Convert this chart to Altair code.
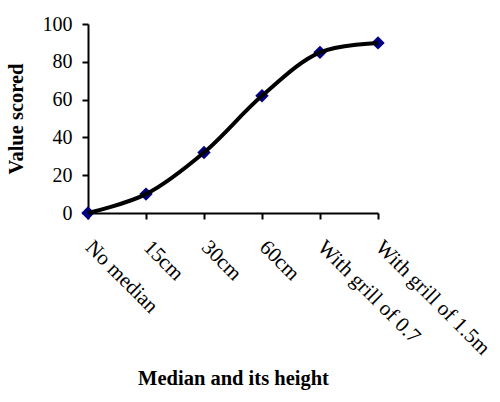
import altair as alt
import pandas as pd

categories = ["No median", "15cm", "30cm", "60cm", "With grill of 0.7", "With grill of 1.5m"]
values = [0, 10, 32, 62, 85, 90]
y_ticks = [0, 20, 40, 60, 80, 100]

df = pd.DataFrame({"cat": categories, "val": values, "order": list(range(len(categories)))})

FONT = "Liberation Serif"

x = alt.X("cat:N", sort=categories,
          scale=alt.Scale(type="point", padding=0),
          axis=alt.Axis(title="Median and its height", labelAngle=45, labelAlign="left",
                        labelBaseline="top", labelPadding=17, labelOffset=8, labelFontSize=21,
                        titleY=155, titleBaseline="top"))
y = alt.Y("val:Q", scale=alt.Scale(domain=[0, 100], nice=False),
          axis=alt.Axis(title="Value scored", values=y_ticks, labelPadding=10,
                        titleX=-62, titleY=94.5, titleAngle=270, titleBaseline="bottom",
                        titleAlign="center"))

points = alt.Chart(df).mark_point(shape="diamond", filled=True, color="#000080",
                                  size=180, opacity=1).encode(x=x, y=y)
line = alt.Chart(df).mark_line(color="black", strokeWidth=4,
                               interpolate="catmull-rom").encode(x=x, y=y, order="order:Q")

chart = alt.layer(points, line).properties(
    width=290, height=189,
    autosize=alt.AutoSizeParams(type="none"),
    padding={"left": 88, "top": 24, "right": 122, "bottom": 189},
    background="white",
).configure_axis(
    labelFont=FONT, titleFont=FONT, labelFontSize=20, titleFontSize=20.5,
    labelColor="black", titleColor="black", titleFontWeight="bold",
    domainColor="black", tickColor="black", domainWidth=2, tickWidth=2, tickSize=6,
    grid=False, labelFlush=False, labelOverlap=False,
).configure_view(stroke=None)

chart.save("out.html", embed_options={"renderer": "svg", "actions": False})
